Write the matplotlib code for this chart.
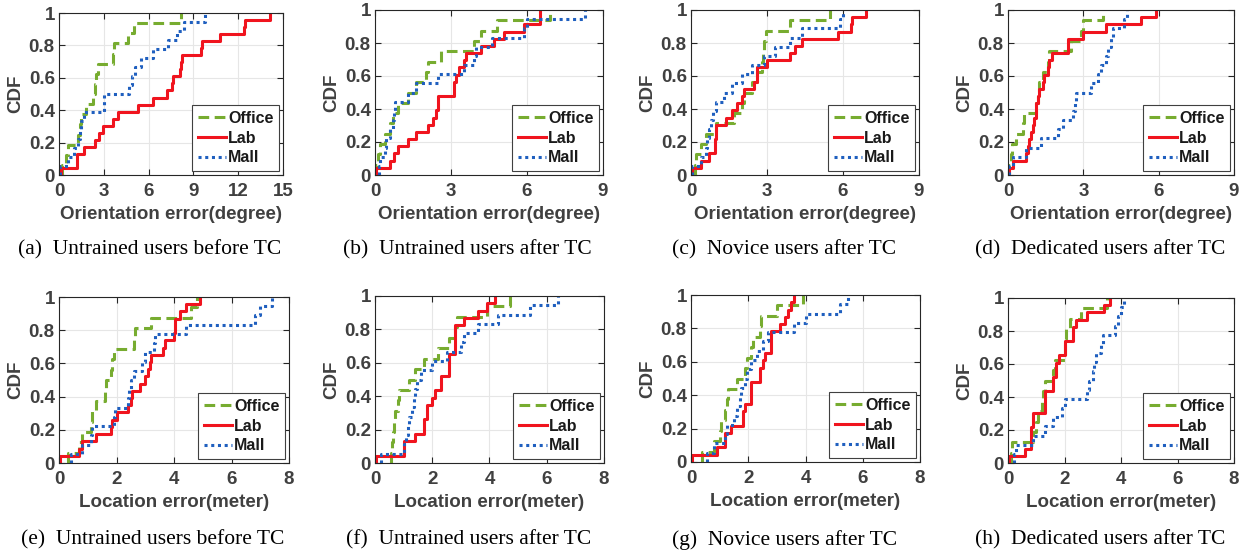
import numpy as np
import matplotlib
matplotlib.use('agg')
import matplotlib.pyplot as plt

# error samples (Office n=16, Lab n=23, Mall n=18)
office_a = [0.2, 0.5, 0.6, 1.3, 1.4, 1.5, 1.8, 2.3, 2.4, 2.5, 2.6, 3.6, 3.7, 4.6, 5.0, 8.2]
lab_a = [0.15, 1.2, 1.2, 1.7, 2.4, 2.7, 2.95, 3.6, 3.95, 5.3, 6.3, 7.2, 7.6, 7.65, 8.1, 8.15,
         8.25, 9.5, 9.55, 10.8, 12.4, 12.45, 14.1]
mall_a = [0.05, 0.6, 1.0, 1.3, 1.4, 1.5, 1.7, 3.0, 3.0, 4.7, 4.9, 5.1, 5.5, 6.3, 7.3, 7.9, 8.4, 9.8]

office_b = [0.05, 0.1, 0.2, 0.4, 0.6, 0.7, 0.9, 1.3, 1.6, 2.0, 2.1, 2.6, 3.9, 4.2, 4.8, 6.9]
lab_b = [0.02, 0.6, 0.75, 0.9, 1.3, 1.6, 2.1, 2.3, 2.4, 2.5, 2.5, 3.1, 3.1, 3.2, 3.3, 3.5,
         3.6, 4.2, 4.7, 5.1, 5.9, 6.5, 6.5]
mall_b = [0.15, 0.2, 0.4, 0.45, 0.6, 0.7, 0.75, 0.8, 1.3, 1.6, 2.5, 3.5, 3.9, 4.0, 4.6, 5.9, 6.0, 8.3]

office_c = [0.15, 0.2, 0.4, 0.6, 1.0, 1.7, 2.0, 2.1, 2.4, 2.6, 2.8, 2.85, 2.9, 2.95, 3.9, 5.5]
lab_c = [0.02, 0.4, 0.7, 0.95, 0.95, 1.0, 1.0, 1.4, 1.6, 1.8, 2.0, 2.1, 2.5, 2.6, 2.6, 3.0,
         3.9, 4.1, 4.4, 5.8, 6.3, 6.35, 6.9]
mall_c = [0.02, 0.4, 0.6, 0.65, 0.7, 0.8, 0.85, 1.0, 1.3, 1.6, 2.0, 2.4, 2.9, 3.3, 3.9, 4.4, 5.9, 6.0]

office_d = [0.05, 0.1, 0.15, 0.3, 0.6, 0.65, 1.1, 1.2, 1.25, 1.4, 1.6, 1.65, 2.5, 2.9, 3.0, 3.8]
lab_d = [0.05, 0.2, 0.7, 0.8, 0.85, 0.9, 1.0, 1.02, 1.1, 1.12, 1.2, 1.25, 1.4, 1.45, 1.6, 1.65,
         1.75, 2.4, 2.4, 3.0, 3.9, 5.3, 5.9]
mall_d = [0.05, 0.2, 0.7, 1.3, 2.0, 2.2, 2.6, 2.65, 2.7, 3.3, 3.6, 3.7, 3.9, 4.0, 4.1, 4.2, 4.6, 4.75]

office_e = [0.3, 0.7, 0.8, 1.1, 1.15, 1.3, 1.6, 1.65, 1.8, 1.85, 1.9, 2.6, 2.65, 3.2, 4.6, 4.8]
lab_e = [0.02, 0.7, 0.8, 1.3, 1.8, 1.85, 2.0, 2.4, 2.5, 2.55, 2.8, 3.0, 3.1, 3.15, 3.2, 3.6,
         3.7, 4.0, 4.02, 4.05, 4.2, 4.4, 4.9]
mall_e = [0.4, 0.8, 1.1, 1.15, 1.9, 1.95, 2.4, 2.45, 2.5, 2.6, 2.9, 3.0, 3.3, 3.35, 4.4, 6.8, 7.0, 7.4]

office_f = [0.55, 0.6, 0.62, 0.65, 0.7, 0.8, 0.85, 1.2, 1.4, 1.7, 2.2, 2.6, 2.8, 2.85, 3.9, 4.7]
lab_f = [0.02, 1.0, 1.0, 1.4, 1.7, 1.7, 1.8, 1.8, 2.0, 2.1, 2.3, 2.3, 2.6, 2.6, 2.6, 2.8,
         2.8, 2.8, 2.8, 3.1, 3.6, 3.9, 4.2]
mall_f = [0.2, 1.0, 1.1, 1.15, 1.2, 1.3, 1.35, 1.4, 1.45, 1.6, 2.0, 2.5, 3.0, 3.1, 3.6, 4.3, 5.4, 6.4]

office_g = [0.4, 0.8, 1.0, 1.05, 1.2, 1.25, 1.3, 1.6, 1.9, 1.95, 2.1, 2.15, 2.4, 2.45, 3.0, 3.9]
lab_g = [0.02, 0.9, 1.2, 1.2, 1.4, 1.8, 1.8, 1.9, 2.1, 2.1, 2.1, 2.4, 2.4, 2.5, 2.6, 2.8,
         2.8, 2.8, 3.1, 3.3, 3.4, 3.5, 3.6]
mall_g = [0.55, 0.8, 1.2, 1.25, 1.5, 1.6, 1.7, 1.75, 1.9, 1.95, 2.1, 2.3, 2.5, 2.7, 3.6, 4.0, 5.2, 5.5]

office_h = [0.1, 0.15, 0.9, 1.0, 1.05, 1.2, 1.25, 1.3, 1.6, 1.65, 2.0, 2.02, 2.05, 2.2, 2.6, 3.5]
lab_h = [0.05, 0.6, 0.8, 0.8, 0.8, 0.9, 0.9, 1.3, 1.3, 1.3, 1.6, 1.6, 1.7, 1.7, 1.8, 2.0,
         2.0, 2.3, 2.3, 2.4, 2.8, 3.4, 3.6]
mall_h = [0.2, 0.3, 0.9, 1.3, 1.6, 1.9, 2.0, 2.8, 2.85, 3.0, 3.05, 3.1, 3.3, 3.35, 3.8, 3.9, 4.0, 4.1]

captions = ['(a)  Untrained users before TC', '(b)  Untrained users after TC',
            '(c)  Novice users after TC', '(d)  Dedicated users after TC',
            '(e)  Untrained users before TC', '(f)  Untrained users after TC',
            '(g)  Novice users after TC', '(h)  Dedicated users after TC']
xlabels = ['Orientation error(degree)'] * 4 + ['Location error(meter)'] * 4
xticks = [[0, 3, 6, 9, 12, 15], [0, 3, 6, 9], [0, 3, 6, 9], [0, 3, 6, 9],
          [0, 2, 4, 6, 8], [0, 2, 4, 6, 8], [0, 2, 4, 6, 8], [0, 2, 4, 6, 8]]
yticks = [0, 0.2, 0.4, 0.6, 0.8, 1]
ytick_labels = ['0', '0.2', '0.4', '0.6', '0.8', '1']
series_names = ['Office', 'Lab', 'Mall']

panels = [(office_a, lab_a, mall_a), (office_b, lab_b, mall_b),
          (office_c, lab_c, mall_c), (office_d, lab_d, mall_d),
          (office_e, lab_e, mall_e), (office_f, lab_f, mall_f),
          (office_g, lab_g, mall_g), (office_h, lab_h, mall_h)]

# axes boxes in pixels: left, right, top, bottom
boxes = [(59, 283, 13, 175), (375, 603, 10, 175), (691, 919, 10, 175), (1008, 1234, 10, 175),
         (59, 289, 297, 463), (375, 604, 296, 463), (691, 920, 295, 462), (1008, 1234, 298, 463)]

styles = [dict(color='#77AC30', ls=(0, (3.5, 1.8)), lw=2.2),
          dict(color='#F0141E', ls='-', lw=2.2),
          dict(color='#1F5FBF', ls=(0, (1, 1.2)), lw=2.2)]

plt.rcParams['font.family'] = ['Liberation Sans', 'DejaVu Sans']

W, H = 1246, 552
fig = plt.figure(figsize=(W / 100, H / 100), dpi=100)
txt = '#404040'

for k, (data, box) in enumerate(zip(panels, boxes)):
    l, r, t, b = box
    ax = fig.add_axes([l / W, 1 - b / H, (r - l) / W, (b - t) / H])
    for vals, name, st in zip(data, series_names, styles):
        v = np.sort(np.array(vals))
        n = len(v)
        xs = np.concatenate([[v[0]], v])
        ys = np.concatenate([[0], np.arange(1, n + 1) / n])
        ax.plot(xs, ys, drawstyle='steps-post', label=name, **st)
    ax.set_xlim(xticks[k][0], xticks[k][-1])
    ax.set_ylim(0, 1)
    ax.set_xticks(xticks[k])
    ax.set_yticks(yticks)
    ax.set_yticklabels(ytick_labels)
    ax.grid(True, color='#E6E6E6', lw=0.8)
    ax.set_axisbelow(True)
    ax.tick_params(direction='in', top=True, right=True, length=4, width=0.8,
                   colors='#262626', labelcolor=txt, labelsize=13.5, pad=3)
    ax.tick_params(axis='x', pad=6)
    for lab in ax.get_xticklabels() + ax.get_yticklabels():
        lab.set_fontweight('bold')
    for sp in ax.spines.values():
        sp.set_color('#262626')
        sp.set_linewidth(0.8)
    ax.set_xlabel(xlabels[k], fontsize=13.5, fontweight='bold', color=txt, labelpad=4)
    ax.set_ylabel('CDF', fontsize=13.5, fontweight='bold', color=txt, labelpad=3)
    leg = ax.legend(loc='lower right', fancybox=False, framealpha=1, edgecolor='#404040',
                    prop={'weight': 'bold', 'size': 11.5}, handlelength=1.8,
                    handletextpad=0.1, borderpad=0.35, labelspacing=0.3, borderaxespad=0.25)
    leg.get_frame().set_linewidth(0.8)
    for tx in leg.get_texts():
        tx.set_color('#1a1a1a')
    cy = 250 if k < 4 else 540
    fig.text((l + r) / 2 / W - 0.017, 1 - cy / H, captions[k], ha='center', va='center',
             fontsize=15.5, family='Liberation Serif')

fig.savefig('out.png', dpi=100)
